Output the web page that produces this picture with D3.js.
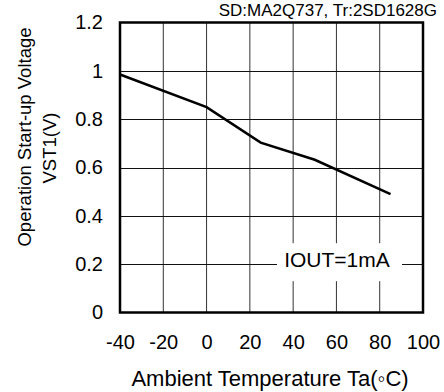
<!DOCTYPE html>
<html>
<head>
<meta charset="utf-8">
<script src="https://cdn.jsdelivr.net/npm/d3@7"></script>
<style>
  body { margin: 0; background: #fff; }
  svg { display: block; font-family: "Liberation Sans", Arial, sans-serif; }
</style>
</head>
<body>
<script>
'use strict';

// Data (Ta in °C, VST1 in V)
const temps = [-40, 0, 25, 50, 85];
const volts = [0.985, 0.85, 0.703, 0.632, 0.49];

const xTicks = [-40, -20, 0, 20, 40, 60, 80, 100];
const yTicks = [0, 0.2, 0.4, 0.6, 0.8, 1, 1.2];

const note = 'IOUT=1mA';
const topNote = 'SD:MA2Q737, Tr:2SD1628G';
const xTitle = 'Ambient Temperature Ta(\u25E6C)';
const yTitle = ['Operation Start-up Voltage', 'VST1(V)'];

const W = 444, H = 392;
const M = { left: 120, right: 21, top: 22.5, bottom: 79.5 };

let svg = d3.select('body').append('svg').attr('width', W).attr('height', H);

let x = d3.scaleLinear().domain([-40, 100]).range([M.left, W - M.right]);
let y = d3.scaleLinear().domain([0, 1.2]).range([H - M.bottom, M.top]);

// grid
svg.append('g').selectAll('line')
	.data(xTicks.slice(1, -1))
	.enter().append('line')
	.attr('x1', d => x(d)).attr('x2', d => x(d))
	.attr('y1', M.top).attr('y2', H - M.bottom)
	.attr('stroke', '#333').attr('stroke-width', 1);
svg.append('g').selectAll('line')
	.data(yTicks.slice(1, -1))
	.enter().append('line')
	.attr('x1', M.left).attr('x2', W - M.right)
	.attr('y1', d => Math.round(y(d)) + 0.5).attr('y2', d => Math.round(y(d)) + 0.5)
	.attr('stroke', '#111').attr('stroke-width', 1);

// curve
let line = d3.line().x((d, i) => x(temps[i])).y(d => y(d));
svg.append('path')
	.datum(volts)
	.attr('d', line)
	.attr('fill', 'none')
	.attr('stroke', '#000')
	.attr('stroke-width', 2.5);

// note box (blanks the grid behind the label)
let noteY = y(0.2);
svg.append('rect')
	.attr('x', 277).attr('y', noteY - 21)
	.attr('width', 125).attr('height', 38)
	.attr('fill', '#fff');
svg.append('text')
	.attr('x', 337).attr('y', noteY + 2.5)
	.attr('font-size', 21)
	.attr('text-anchor', 'middle')
	.text(note);

// frame
svg.append('rect')
	.attr('x', M.left).attr('y', M.top)
	.attr('width', W - M.left - M.right).attr('height', H - M.top - M.bottom)
	.attr('fill', 'none').attr('stroke', '#000').attr('stroke-width', 2.5);

// axes
let xAxis = d3.axisBottom(x).tickValues(xTicks).tickSize(0).tickPadding(22).tickFormat(d => String(d));
let yAxis = d3.axisLeft(y).tickValues(yTicks).tickSize(0).tickPadding(17).tickFormat(d => String(+d.toFixed(1)));

svg.append('g')
	.attr('transform', 'translate(0,' + (H - M.bottom) + ')')
	.call(xAxis)
	.call(g => g.select('.domain').remove())
	.selectAll('text').attr('font-size', 20).attr('fill', '#000').attr('font-family', null);
svg.append('g')
	.attr('transform', 'translate(' + M.left + ',0)')
	.call(yAxis)
	.call(g => g.select('.domain').remove())
	.selectAll('text').attr('font-size', 20).attr('fill', '#000').attr('font-family', null);

// titles
svg.append('text')
	.attr('x', 270).attr('y', 386)
	.attr('font-size', 22).attr('text-anchor', 'middle')
	.text(xTitle);
svg.append('text')
	.attr('transform', 'translate(31,137) rotate(-90)')
	.attr('font-size', 18.5).attr('text-anchor', 'middle')
	.text(yTitle[0]);
svg.append('text')
	.attr('transform', 'translate(56,148) rotate(-90)')
	.attr('font-size', 18.5).attr('text-anchor', 'middle')
	.text(yTitle[1]);

svg.append('text')
	.attr('x', 437).attr('y', 16)
	.attr('font-size', 17).attr('text-anchor', 'end')
	.text(topNote);
</script>
</body>
</html>
